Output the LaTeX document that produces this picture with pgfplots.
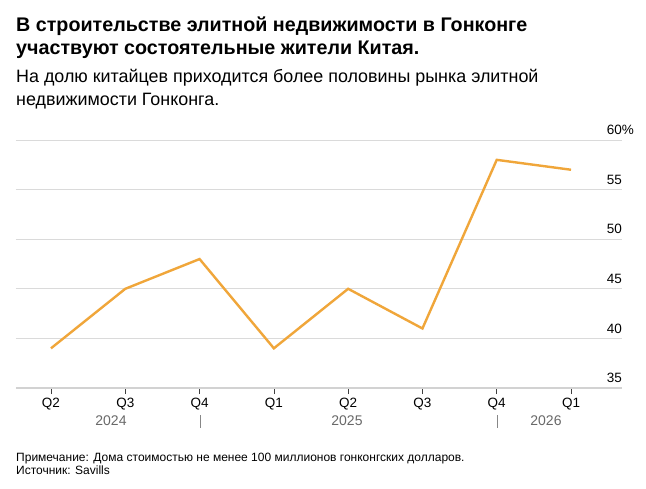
\documentclass[border=0pt]{standalone}
\usepackage{pgfplots}
\pgfplotsset{compat=1.18}
\usepackage{fontspec}
\setmainfont{Liberation Sans}
\definecolor{lineorange}{RGB}{240,166,58}
\definecolor{gridgray}{RGB}{218,218,218}
\definecolor{basegray}{RGB}{210,210,210}
\definecolor{yeargray}{RGB}{105,105,105}

\begin{document}
\begin{tikzpicture}[x=1pt,y=1pt]
\path[use as bounding box, fill=white] (0,0) rectangle (646,488);

% headline and subtitle (anchored at the baseline of their last line)
\node[anchor=base west, inner sep=0, align=left,
      font=\fontsize{19.7}{23}\selectfont\bfseries] at (16,433)
  {В строительстве элитной недвижимости в Гонконге\\участвуют состоятельные жители Китая.};
\node[anchor=base west, inner sep=0, align=left,
      font=\fontsize{17.9}{23.3}\selectfont] at (16,382)
  {На долю китайцев приходится более половины рынка элитной\\недвижимости Гонконга.};

\begin{axis}[
  at={(16pt,100pt)}, anchor=south west,
  width=606pt, height=248pt, scale only axis,
  xmin=-0.471, xmax=7.686, ymin=35, ymax=60,
  axis line style={draw=none},
  xtick={0,...,7},
  xticklabels={Q2,Q3,Q4,Q1,Q2,Q3,Q4,Q1},
  x tick style={black!75, line width=0.7pt},
  xtick align=outside, xtick pos=bottom,
  major tick length=6pt,
  xticklabel style={font=\fontsize{13.5}{13.5}\selectfont, yshift=-1pt},
  ytick={35,40,45,50,55,60},
  yticklabels={35,40,45,50,55,60\rlap{\%}},
  ytick style={draw=none},
  yticklabel pos=right,
  yticklabel style={font=\fontsize{13.5}{13.5}\selectfont, anchor=south east,
                    inner sep=0pt, xshift=0pt, yshift=5pt},
  /pgf/number format/assume math mode=true,
  ymajorgrids, grid style={gridgray, line width=1pt},
  clip=false,
]
\draw[basegray, line width=2pt] (axis cs:-0.471,35) -- (axis cs:7.686,35);
\addplot[lineorange, line width=2.4pt, line join=miter, mark=none]
  coordinates {(0,39) (1,45) (2,48) (3,39) (4,45) (5,41) (6,58) (7,57)};
\end{axis}

% years under the quarters
\begin{scope}[font=\fontsize{14}{14}\selectfont, text=yeargray]
  \node[anchor=base] at (111,62.5) {2024};
  \node[anchor=base] at (347,62.5) {2025};
  \node[anchor=base] at (546,62.5) {2026};
\end{scope}
\draw[yeargray!80, line width=0.7pt] (200.8,73) -- (200.8,60.5);
\draw[yeargray!80, line width=0.7pt] (497.6,73) -- (497.6,60.5);

% footnotes
\node[anchor=base west, inner sep=0, align=left,
      font=\fontsize{12}{12.6}\selectfont] at (16,13.7)
  {Примечание: Дома стоимостью не менее 100 миллионов гонконгских долларов.\\Источник: Savills};
\end{tikzpicture}
\end{document}
